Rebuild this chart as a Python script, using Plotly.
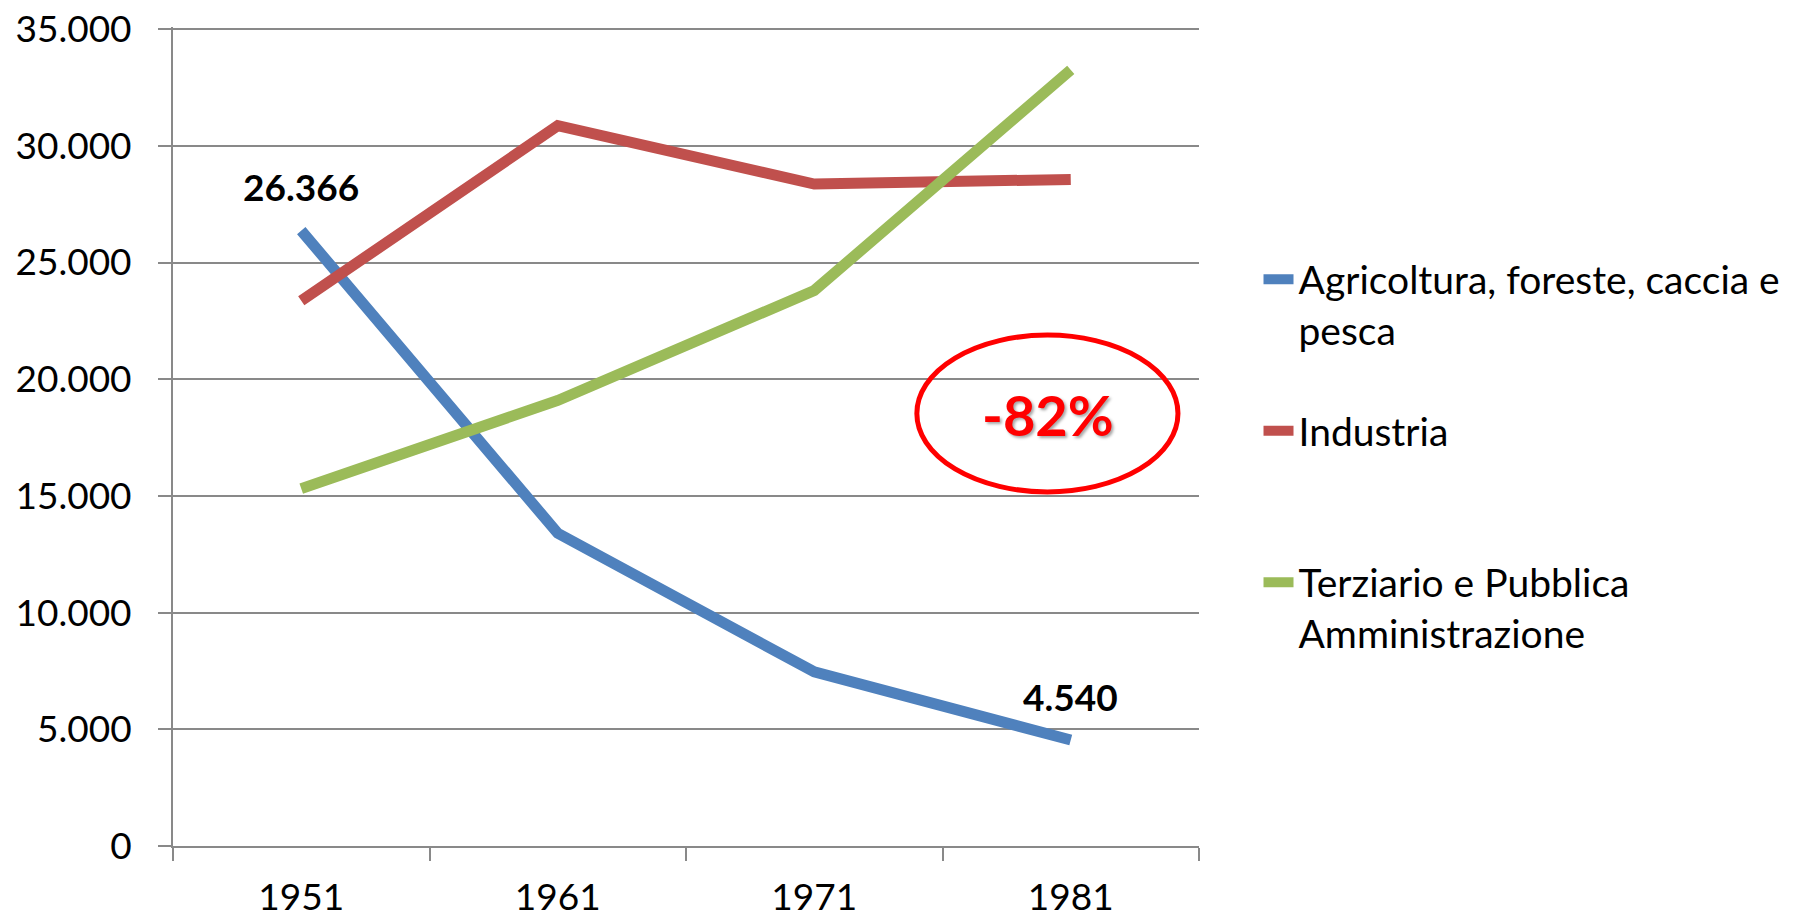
import plotly.graph_objects as go

years = ["1951", "1961", "1971", "1981"]
agricoltura = [26366, 13400, 7460, 4540]
industria = [23360, 30860, 28360, 28560]
terziario = [15310, 19090, 23800, 33250]

names = ["Agricoltura, foreste, caccia e<br>pesca", "Industria", "Terziario e Pubblica<br>Amministrazione"]
colors = ["#4F81BD", "#C0504D", "#9BBB59"]
series = [agricoltura, industria, terziario]
legends = ["legend", "legend2", "legend3"]
y_ticks = [0, 5000, 10000, 15000, 20000, 25000, 30000, 35000]

FONT = "Lato, Carlito, Calibri, sans-serif"
GRID = "#898989"

fig = go.Figure()
for vals, name, col, lg in zip(series, names, colors, legends):
    fig.add_trace(go.Scatter(x=years, y=vals, mode="lines", name=name,
                             line=dict(color=col, width=11), legend=lg))

def fmt(v):
    return f"{v:,}".replace(",", ".")

# data labels on first and last agricoltura points
for idx in (0, 3):
    fig.add_annotation(x=idx, y=agricoltura[idx], xref="x", yref="y",
                       text=f"<b>{fmt(agricoltura[idx])}</b>",
                       showarrow=False, yshift=44, font=dict(family=FONT, size=37, color="black"))

# -82% callout
fig.add_shape(type="circle", xref="x", yref="y", x0=2.40, x1=3.418, y0=15170, y1=21890,
              line=dict(color="#FF0000", width=5), fillcolor="rgba(0,0,0,0)")
fig.add_annotation(xref="x", yref="y", x=2.91, y=18480, text="<b>-82%</b>", showarrow=False,
                   font=dict(family=FONT, size=56, color="#FF0000",
                             shadow="2px 2px 3px rgba(0,0,0,0.35)"))

leg_common = dict(font=dict(family=FONT, size=39, color="black"), bgcolor="rgba(0,0,0,0)",
                  xanchor="left", yanchor="top", valign="top", itemwidth=30)
fig.update_layout(
    legend=dict(x=1.058, y=0.731, **leg_common),
    legend2=dict(x=1.058, y=0.546, **leg_common),
    legend3=dict(x=1.058, y=0.361, **leg_common),
)

fig.update_layout(
    width=1797, height=923,
    margin=dict(l=173, r=598, t=27, b=77),
    paper_bgcolor="white", plot_bgcolor="white",
    separators=",.",
    showlegend=True,
    xaxis=dict(type="category", range=[-0.5, 3.5], showline=True, linecolor=GRID, linewidth=2,
               ticks="outside", tickson="boundaries", ticklen=13, tickwidth=2, tickcolor=GRID,
               showgrid=False, tickfont=dict(family=FONT, size=37, color="black"),
               ticklabelstandoff=18, automargin=False),
    yaxis=dict(range=[0, 35090], tickmode="array", tickvals=y_ticks,
               ticktext=[fmt(v) for v in y_ticks], showline=True, linecolor=GRID,
               linewidth=2, ticks="outside", ticklen=13, tickwidth=2, tickcolor=GRID,
               showgrid=True, gridcolor=GRID, gridwidth=2, zeroline=False,
               tickfont=dict(family=FONT, size=37, color="black"), ticklabelstandoff=19,
               ticklabeloverflow="allow", automargin=False),
)

fig.write_html("out.html", config={"displayModeBar": False},
               post_script="document.body.style.margin='0';")
